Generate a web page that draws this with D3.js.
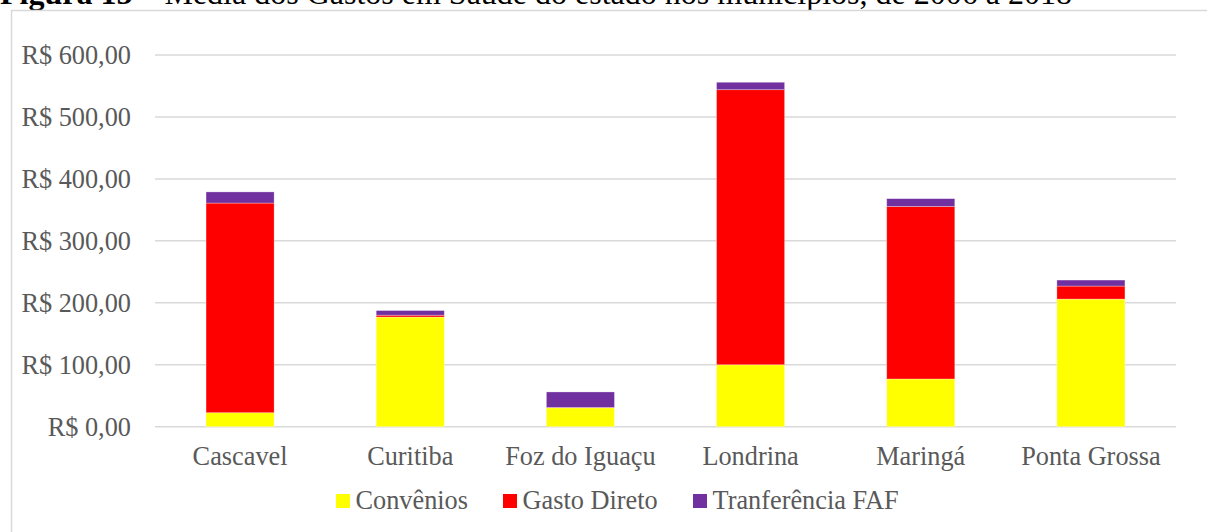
<!DOCTYPE html>
<html>
<head>
<meta charset="utf-8">
<script src="https://cdn.jsdelivr.net/npm/d3@7"></script>
<style>
  body { margin: 0; background: #fff; }
  svg { display: block; font-family: "Liberation Serif", "Times New Roman", serif; }
</style>
</head>
<body>
<div id="chart"></div>
<script>
'use strict';

const cities = ["Cascavel", "Curitiba", "Foz do Iguaçu", "Londrina", "Maringá", "Ponta Grossa"];
const convenios = [22.6, 177, 30.5, 100, 77, 206];
const gastoDireto = [338.4, 3, 0.6, 444, 278.6, 21];
const transferenciaFAF = [18, 7.5, 25, 12, 12.5, 9.7];
const seriesNames = ["Convênios", "Gasto Direto", "Tranferência FAF"];
const seriesColors = ["#ffff00", "#ff0000", "#7030a0"];
const yTicks = [0, 100, 200, 300, 400, 500, 600];

const width = 1207, height = 532;
const fontSize = 26.3;
const svg = d3.select("#chart").append("svg")
    .attr("width", width)
    .attr("height", height);

// figure caption, cut by the top edge like in the source
const caption = svg.append("text")
    .attr("x", 0)
    .attr("y", 3.5)
    .attr("font-size", 32)
    .attr("fill", "#000");
caption.append("tspan").attr("font-weight", "bold").text("Figura 15");
caption.append("tspan").text(" – Média dos Gastos em Saúde do estado nos municípios, de 2006 a 2018");

// chart frame (right/bottom edges fall outside the picture)
svg.append("rect")
    .attr("x", 11.5).attr("y", 10.5)
    .attr("width", 1220).attr("height", 540)
    .attr("fill", "#fff")
    .attr("stroke", "#d9d9d9")
    .attr("stroke-width", 1.5);

const plot = {left: 155, right: 1176, top: 55, bottom: 426.7};

const x = d3.scaleBand()
    .domain(cities)
    .range([plot.left, plot.right])
    .paddingInner(0.6)
    .paddingOuter(0.3);

const y = d3.scaleLinear()
    .domain([0, 600])
    .range([plot.bottom, plot.top]);

// gridlines
svg.append("g")
    .selectAll("line")
    .data(yTicks)
    .join("line")
    .attr("x1", plot.left).attr("x2", plot.right)
    .attr("y1", d => y(d)).attr("y2", d => y(d))
    .attr("stroke", "#d9d9d9")
    .attr("stroke-width", 1.5);

// y labels, pt-BR currency
const fmt = d => "R$ " + d3.format(",.2f")(d).replace(".", "#").replace(/,/g, ".").replace("#", ",");
svg.append("g")
    .selectAll("text")
    .data(yTicks)
    .join("text")
    .attr("x", 131)
    .attr("y", d => y(d))
    .attr("dy", "0.35em")
    .attr("text-anchor", "end")
    .attr("font-size", fontSize)
    .attr("fill", "#595959")
    .text(fmt);

// stacked bars
const rows = cities.map((c, i) => ({city: c, s0: convenios[i], s1: gastoDireto[i], s2: transferenciaFAF[i]}));
const stack = d3.stack().keys(["s0", "s1", "s2"]);
const layers = stack(rows);

svg.append("g")
    .selectAll("g")
    .data(layers)
    .join("g")
    .attr("fill", (d, i) => seriesColors[i])
    .selectAll("rect")
    .data(d => d)
    .join("rect")
    .attr("x", d => x(d.data.city))
    .attr("width", x.bandwidth())
    .attr("y", d => y(d[1]))
    .attr("height", d => y(d[0]) - y(d[1]))
    .attr("stroke", "#fff")
    .attr("stroke-opacity", 0.4)
    .attr("stroke-width", 0.75);

// x labels
svg.append("g")
    .selectAll("text")
    .data(cities)
    .join("text")
    .attr("x", d => x(d) + x.bandwidth() / 2)
    .attr("y", 465)
    .attr("text-anchor", "middle")
    .attr("font-size", fontSize)
    .attr("fill", "#595959")
    .text(d => d);

// legend
const legendX = [336, 503, 693];
const legend = svg.append("g")
    .selectAll("g")
    .data(seriesNames)
    .join("g")
    .attr("transform", (d, i) => `translate(${legendX[i]},0)`);
legend.append("rect")
    .attr("x", 0).attr("y", 494)
    .attr("width", 14).attr("height", 14)
    .attr("fill", (d, i) => seriesColors[i]);
legend.append("text")
    .attr("x", 19.5)
    .attr("y", 508.5)
    .attr("font-size", fontSize)
    .attr("fill", "#595959")
    .text(d => d);
</script>
</body>
</html>
